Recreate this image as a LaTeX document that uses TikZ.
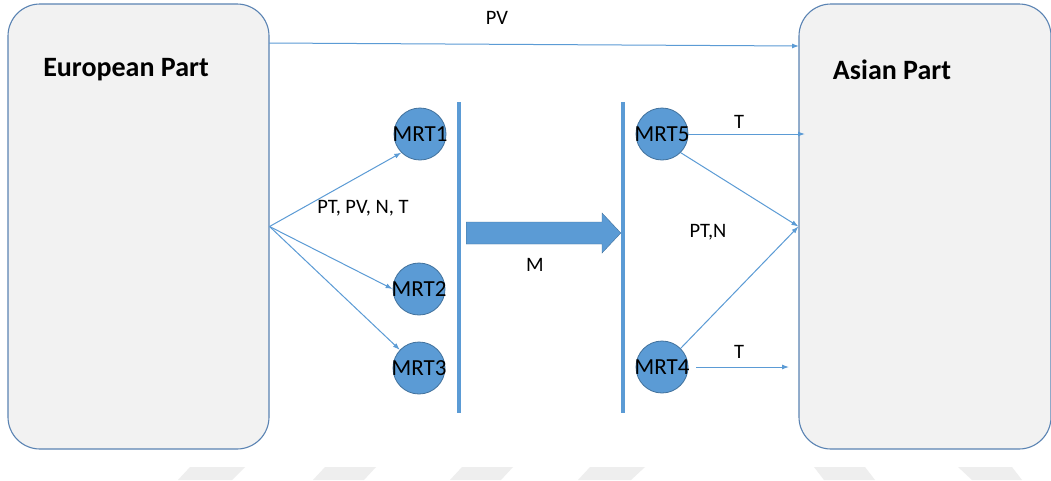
\documentclass[tikz,border=0pt]{standalone}
\usepackage{fontspec}
\setmainfont{Carlito}
\usetikzlibrary{arrows.meta}
\definecolor{accent}{HTML}{5B9BD5}
\definecolor{accentdark}{HTML}{41719C}
\definecolor{regionfill}{HTML}{F2F2F2}
\definecolor{regionline}{HTML}{5A83B3}
\definecolor{markgray}{HTML}{EEEEEE}
\begin{document}
\begin{tikzpicture}[x=1pt,y=-1pt,
  region/.style={draw=regionline, line width=1.1pt, fill=regionfill,
    rounded corners=32pt, inner sep=0pt},
  title/.style={font=\fontsize{28}{32}\selectfont\bfseries, inner sep=0pt},
  lbl/.style={font=\fontsize{20.5}{24}\selectfont, inner sep=0pt},
  mrtlbl/.style={font=\fontsize{23}{26}\selectfont, inner sep=0pt},
  mrt/.style={circle, draw=accentdark, line width=0.8pt, fill=accent,
    minimum size=52pt, inner sep=0pt,
    label={[mrtlbl, text=black]center:#1}},
  flow/.style={draw=accent, line width=1pt, -{Latex[length=7pt,width=5pt]}},
  bar/.style={fill=accent, inner sep=0pt, minimum width=4pt, minimum height=311pt}
]
\useasboundingbox (0,0) rectangle (1051,480);
\fill[white] (0,0) rectangle (1051,480);

% faint marks along the lower edge
\foreach \a/\b/\c/\d in {190/245/178/232, 325/376/313/364, 462/513/450/501,
  590/645/578/631, 814/865/824/875, 958/1012/972/1022}
  \fill[markgray] (\a,467) -- (\b,467) -- (\d,480) -- (\c,480) -- cycle;

% the two sides
\node[region, minimum width=261pt, minimum height=445pt] (eu) at (138.5,226.5) {};
\node[region, minimum width=252pt, minimum height=445pt] (as) at (925,226.5) {};
\node[title] (eut) at (126,70) {European Part};
\node[title] (ast) at (892,70) {Asian Part};

% stations
\node[mrt=MRT1] (m1) at (420,134) {};
\node[mrt=MRT2] (m2) at (419,289) {};
\node[mrt=MRT3] (m3) at (419,368) {};
\node[mrt=MRT5] (m5) at (662,134) {};
\node[mrt=MRT4] (m4) at (662,367) {};

% vertical barriers
\node[bar] (b1) at (459,257.5) {};
\node[bar] (b2) at (623,257.5) {};

% free ends of connectors
\coordinate (pvs) at (269,43);
\coordinate (pve) at (799,46);
\coordinate (t5e) at (805,134);
\coordinate (t4e) at (789,367);

% direct PV flow
\draw[flow] (pvs) -- (pve);
\node[lbl] (pvl) at (497,18) {PV};

% fan-out from the European side
\draw[flow] (eu.east) -- (m1.south west);
\draw[flow] (eu.east) -- (m2.west);
\draw[flow] (eu.east) -- (m3);
\node[lbl] (fanl) at (363,208) {PT, PV, N, T};

% block arrow between the barriers
\fill[accent, draw=accentdark, line width=0.4pt]
  ([xshift=5pt]b1.east |- 0,222) -- (602,222) -- (602,213) -- (b2.west |- 0,233)
  -- (602,253) -- (602,244) -- ([xshift=5pt]b1.east |- 0,244) -- cycle;
\node[lbl] (ml) at (535,265) {M};

% flows into the Asian side
\draw[flow] (m5.east) -- (t5e);
\node[lbl] (t5l) at (739,122) {T};
\draw[flow] (m5.south east) -- (as.west);
\draw[flow] (m4.north east) -- (as.west);
\node[lbl] (ptn) at (708,232) {PT,N};
\draw[flow] ([xshift=8pt]m4.east) -- (t4e);
\node[lbl] (t4l) at (739,352) {T};
\end{tikzpicture}
\end{document}
